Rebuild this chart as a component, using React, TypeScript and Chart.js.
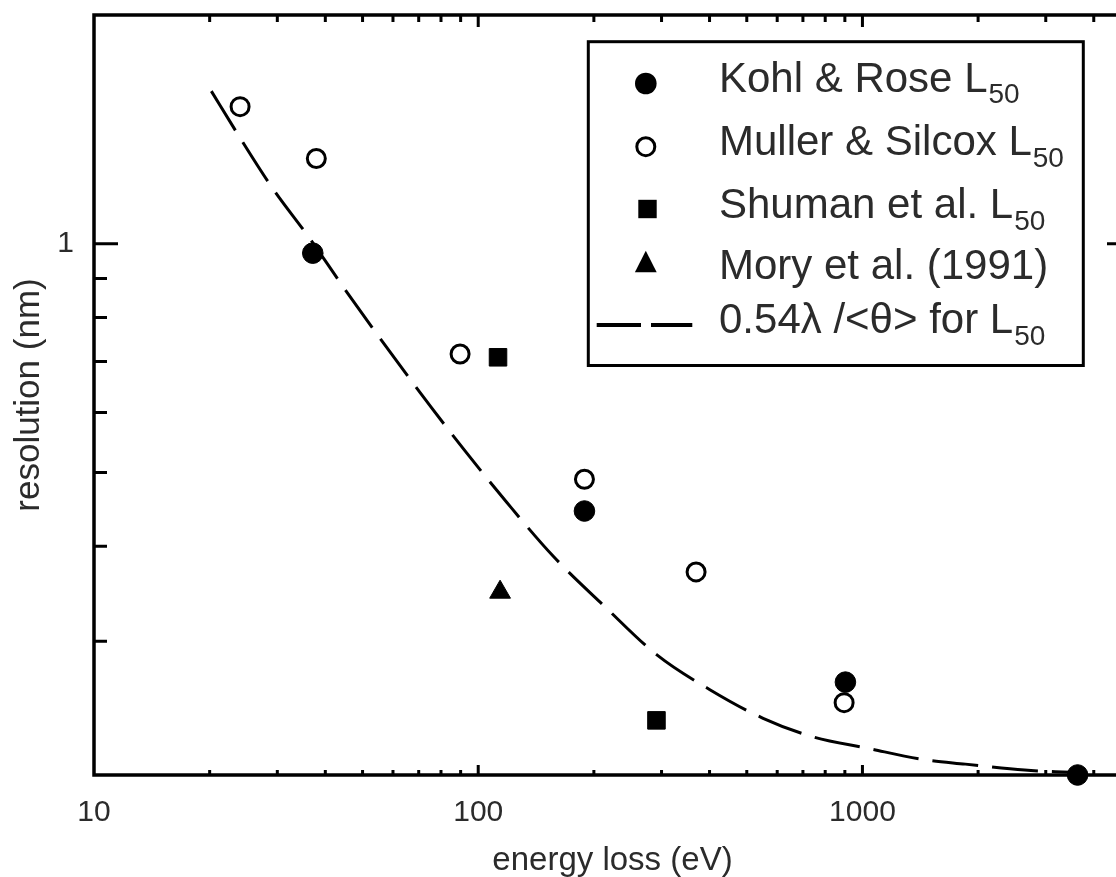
import React, { useEffect, useRef } from 'react';
import { Chart, registerables } from 'chart.js';

Chart.register(...registerables);

// ---- data (energy loss in eV, resolution in nm) ----
const KOHL_E = [37.1, 189, 903, 3630];
const KOHL_R = [0.972, 0.445, 0.265, 0.2];

const MULLER_E = [24.0, 37.9, 89.7, 189, 369, 896];
const MULLER_R = [1.515, 1.295, 0.716, 0.49, 0.37, 0.249];

const SHUMAN_E = [112.6, 291];
const SHUMAN_R = [0.709, 0.236];

const MORY_E = [114];
const MORY_R = [0.348];

const THEORY_E = [20.2, 23.6, 29.0, 36.5, 45.5, 70.6, 92.4, 118.6, 156.8, 213.7, 291.2, 400.8, 551.4, 744, 1034, 1432, 1853, 2644, 3482];
const THEORY_R = [1.588, 1.397, 1.188, 1.015, 0.864, 0.637, 0.534, 0.457, 0.388, 0.333, 0.288, 0.259, 0.2375, 0.2245, 0.2168, 0.2097, 0.2067, 0.203, 0.2016];

const LEGEND_LABELS = ['Kohl & Rose L', 'Muller & Silcox L', 'Shuman et al. L', 'Mory et al. (1991)', '0.54λ /<θ> for L'];
const LEGEND_SUBS = ['50', '50', '50', '', '50'];
const LEGEND_MARKERS = ['filled', 'open', 'square', 'triangle', 'dash'];

const X_TITLE = 'energy loss (eV)';
const Y_TITLE = 'resolution (nm)';
const X_LABELED = [10, 100, 1000];
const Y_LABELED = [1];
const X_TICKS = [20, 30, 40, 50, 60, 70, 80, 90, 100, 200, 300, 400, 500, 600, 700, 800, 900, 1000, 2000, 3000, 4000];
const X_MAJOR = [100, 1000];
const Y_TICKS = [0.3, 0.4, 0.5, 0.6, 0.7, 0.8, 0.9, 1];
const Y_MAJOR = [1];

const FONT = "'Liberation Sans', Arial, Helvetica, sans-serif";
const TEXT_COLOR = '#2b2b2b';

const toPts = (xs: number[], ys: number[]) => xs.map((x, i) => ({ x, y: ys[i] }));
const near = (list: number[], v: number) => list.some((t) => Math.abs(t - v) < 1e-6 * Math.max(1, t));

// ---- layout of the in-plot legend ----
const LEG = {
  left: 588.3, top: 41.7, right: 1083.3, bottom: 365.5,
  textX: 719,
  baselines: [91.7, 155, 218.3, 279.3, 333],
  markerX: 645.8,
  markerY: [83.5, 146.7, 209, 263.7, 325],
};

const framePlugin = {
  id: 'frameTicks',
  beforeDatasetsDraw(chart: any) {
    const { ctx, chartArea: a, scales } = chart;
    const xs = scales.x;
    const ys = scales.y;
    ctx.save();
    ctx.strokeStyle = '#000';
    ctx.lineWidth = 3;
    ctx.lineCap = 'butt';
    ctx.beginPath();
    X_TICKS.forEach((v) => {
      const px = xs.getPixelForValue(v);
      const major = X_MAJOR.includes(v);
      ctx.moveTo(px, a.bottom);
      ctx.lineTo(px, a.bottom - (major ? 10 : 5));
      ctx.moveTo(px, a.top);
      ctx.lineTo(px, a.top + (major ? 12 : 7));
    });
    Y_TICKS.forEach((v) => {
      const py = ys.getPixelForValue(v);
      const major = Y_MAJOR.includes(v);
      ctx.moveTo(a.left, py);
      ctx.lineTo(a.left + (major ? 24 : 13), py);
      ctx.moveTo(a.right, py);
      ctx.lineTo(a.right - (major ? 24 : 13), py);
    });
    ctx.stroke();
    ctx.lineWidth = 3.5;
    ctx.strokeRect(a.left, a.top, a.right - a.left, a.bottom - a.top);
    ctx.restore();
  },
};

const legendPlugin = {
  id: 'insetLegend',
  afterDraw(chart: any) {
    const ctx = chart.ctx as CanvasRenderingContext2D;
    ctx.save();
    ctx.fillStyle = '#fff';
    ctx.fillRect(LEG.left, LEG.top, LEG.right - LEG.left, LEG.bottom - LEG.top);
    ctx.strokeStyle = '#000';
    ctx.lineWidth = 3;
    ctx.strokeRect(LEG.left, LEG.top, LEG.right - LEG.left, LEG.bottom - LEG.top);

    LEGEND_MARKERS.forEach((m, i) => {
      const cx = LEG.markerX;
      const cy = LEG.markerY[i];
      ctx.fillStyle = '#000';
      ctx.strokeStyle = '#000';
      if (m === 'filled') {
        ctx.beginPath();
        ctx.arc(cx, cy, 10.8, 0, Math.PI * 2);
        ctx.fill();
      } else if (m === 'open') {
        ctx.beginPath();
        ctx.arc(cx, cy, 9, 0, Math.PI * 2);
        ctx.fillStyle = '#fff';
        ctx.fill();
        ctx.lineWidth = 3;
        ctx.stroke();
      } else if (m === 'square') {
        ctx.fillRect(cx + 1.7 - 9.2, cy - 9.2, 18.4, 18.4);
      } else if (m === 'triangle') {
        ctx.beginPath();
        ctx.moveTo(cx, cy - 13);
        ctx.lineTo(cx + 10.9, cy + 8.6);
        ctx.lineTo(cx - 10.9, cy + 8.6);
        ctx.closePath();
        ctx.fill();
      } else if (m === 'dash') {
        ctx.lineWidth = 4;
        ctx.beginPath();
        ctx.moveTo(596.7, cy);
        ctx.lineTo(641, cy);
        ctx.moveTo(651, cy);
        ctx.lineTo(692.3, cy);
        ctx.stroke();
      }
    });

    ctx.fillStyle = TEXT_COLOR;
    ctx.textBaseline = 'alphabetic';
    ctx.textAlign = 'left';
    LEGEND_LABELS.forEach((label, i) => {
      const by = LEG.baselines[i];
      ctx.font = `42px ${FONT}`;
      ctx.fillText(label, LEG.textX, by);
      const w = ctx.measureText(label).width;
      if (LEGEND_SUBS[i]) {
        ctx.font = `28px ${FONT}`;
        ctx.fillText(LEGEND_SUBS[i], LEG.textX + w + 1, by + 11.5);
      }
    });
    ctx.restore();
  },
};

export default function App() {
  const canvasRef = useRef<HTMLCanvasElement | null>(null);

  useEffect(() => {
    if (!canvasRef.current) return;
    Chart.defaults.font.family = FONT;
    const chart = new Chart(canvasRef.current, {
      type: 'scatter',
      data: {
        datasets: [
          {
            label: LEGEND_LABELS[0],
            data: toPts(KOHL_E, KOHL_R),
            pointStyle: 'circle',
            pointRadius: 10.3,
            pointBackgroundColor: '#000',
            pointBorderColor: '#000',
            pointBorderWidth: 1,
            clip: false,
          },
          {
            label: LEGEND_LABELS[1],
            data: toPts(MULLER_E, MULLER_R),
            pointStyle: 'circle',
            pointRadius: 9,
            pointBackgroundColor: '#fff',
            pointBorderColor: '#000',
            pointBorderWidth: 3,
            clip: false,
          },
          {
            label: LEGEND_LABELS[2],
            data: toPts(SHUMAN_E, SHUMAN_R),
            pointStyle: 'rect',
            pointRadius: 12.4,
            pointBackgroundColor: '#000',
            pointBorderColor: '#000',
            pointBorderWidth: 1,
            clip: false,
          },
          {
            label: LEGEND_LABELS[3],
            data: toPts(MORY_E, MORY_R),
            pointStyle: 'triangle',
            pointRadius: 12,
            pointBackgroundColor: '#000',
            pointBorderColor: '#000',
            pointBorderWidth: 1,
            clip: false,
          },
          {
            label: LEGEND_LABELS[4],
            data: toPts(THEORY_E, THEORY_R),
            showLine: true,
            borderColor: '#000',
            borderWidth: 3,
            borderDash: [46, 14],
            pointRadius: 0,
            cubicInterpolationMode: 'monotone',
            fill: false,
            clip: false,
          } as any,
        ],
      },
      options: {
        responsive: false,
        animation: false,
        events: [],
        devicePixelRatio: 1,
        layout: { padding: { left: 0, right: 29, top: 15, bottom: 0 } },
        plugins: {
          legend: { display: false },
          tooltip: { enabled: false },
          title: { display: false },
        },
        scales: {
          x: {
            type: 'logarithmic',
            position: 'bottom',
            min: 10,
            max: 5000,
            grid: { display: false, drawTicks: false },
            border: { display: false },
            ticks: {
              autoSkip: false,
              maxRotation: 0,
              minRotation: 0,
              padding: 20,
              color: TEXT_COLOR,
              font: { size: 30, family: FONT },
              callback: (v: any) => (near(X_LABELED, Number(v)) ? String(Number(v)) : ''),
            },
            title: {
              display: true,
              text: X_TITLE,
              color: TEXT_COLOR,
              font: { size: 33, family: FONT, lineHeight: 1 },
              padding: { top: 0, bottom: 0 },
            },
            afterFit: (s: any) => {
              s.height = 102;
              s.paddingLeft = 0;
              s.paddingRight = 0;
              s.paddingTop = 0;
              s.paddingBottom = 0;
            },
          },
          y: {
            type: 'logarithmic',
            position: 'left',
            min: 0.2,
            max: 2,
            grid: { display: false, drawTicks: false },
            border: { display: false },
            ticks: {
              autoSkip: false,
              padding: 20,
              color: TEXT_COLOR,
              font: { size: 30, family: FONT },
              callback: (v: any) => (near(Y_LABELED, Number(v)) ? String(Number(v)) : ''),
            },
            title: {
              display: true,
              text: Y_TITLE,
              color: TEXT_COLOR,
              font: { size: 35, family: FONT, lineHeight: 1.2 },
              padding: { top: 8, bottom: 0 },
            },
            afterFit: (s: any) => {
              s.width = 94;
              s.paddingLeft = 0;
              s.paddingRight = 0;
              s.paddingTop = 0;
              s.paddingBottom = 0;
            },
          },
        },
      } as any,
      plugins: [framePlugin, legendPlugin],
    });
    return () => chart.destroy();
  }, []);

  return (
    <div
      style={{
        position: 'fixed',
        left: 0,
        top: 0,
        width: 1116,
        height: 877,
        overflow: 'hidden',
        background: '#fff',
      }}
    >
      <canvas ref={canvasRef} width={1160} height={877} style={{ display: 'block', width: 1160, height: 877 }} />
    </div>
  );
}
